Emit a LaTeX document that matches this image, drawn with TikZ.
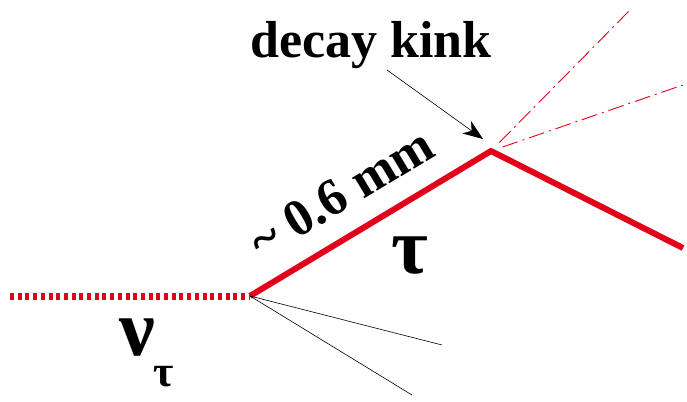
\documentclass[tikz,border=0pt]{standalone}
\usepackage{fontspec}
\setmainfont{Liberation Serif}
\usetikzlibrary{arrows.meta,calc}
\definecolor{trackred}{RGB}{227,0,27}
\begin{document}
\begin{tikzpicture}
            [x=1pt, y=-1pt,
             track/.style={trackred, line width=6pt},
             neutrino/.style={trackred, line width=7pt, dash pattern=on 4pt off 3.7pt},
             daughter/.style={trackred, line width=0.9pt, dash pattern=on 16pt off 5pt on 2pt off 5pt},
             hadron/.style={black, line width=0.6pt},
             label/.style={font=\bfseries\fontsize{52}{52}\selectfont, inner sep=0pt}]
            \useasboundingbox (0,0) rectangle (687,401);
            \coordinate (nustart) at (10,296);
            \coordinate (vtx) at (250,296);
            \coordinate (kink) at (491,151);
            \coordinate (muend) at (683,248);
            \coordinate (d1) at (630,10);
            \coordinate (d2) at (683,85);
            \coordinate (h1) at (442,345);
            \coordinate (h2) at (412,395);
            \coordinate (arrowstart) at (387,70);
            \coordinate (arrowtip) at (483,139);

            \draw[neutrino] (nustart) -- (vtx);
            \draw[track, line join=miter] (vtx) -- (kink) -- (muend);
            \draw[daughter] ($(kink)!0.06!(d1)$) -- (d1);
            \draw[daughter] ($(kink)!0.06!(d2)$) -- (d2);
            \draw[hadron] (vtx) -- (h1);
            \draw[hadron] (vtx) -- (h2);

            \node[label] (kinklabel) at (371,45) {decay kink};
            \draw[-{Stealth[length=20pt,width=15pt,inset=6pt]}, line width=0.6pt] (arrowstart) -- (arrowtip);

            \node[label, rotate=31] (length) at (341,193) {\textasciitilde\ 0.6 mm};
            \node[label, font=\bfseries\fontsize{80}{80}\selectfont] (tau) at (410,256) {τ};
            \node[label, font=\bfseries\fontsize{80}{80}\selectfont] (nu) at (137,338) {ν};
            \node[label, font=\bfseries\fontsize{44}{44}\selectfont] (nusub) at (164,377) {τ};
         \end{tikzpicture}
\end{document}
